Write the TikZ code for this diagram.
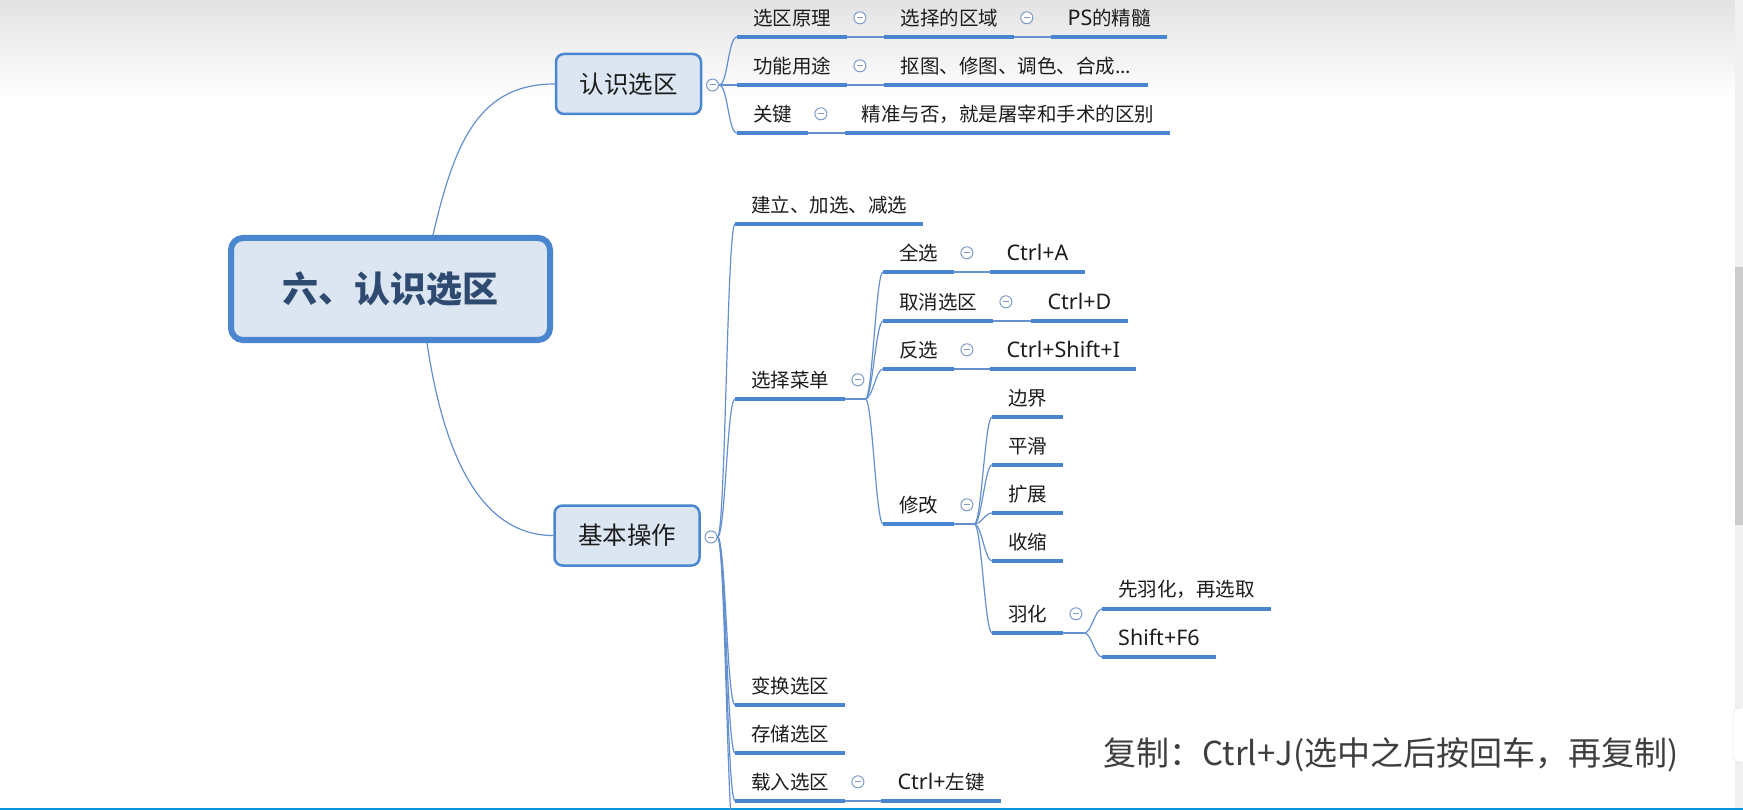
\documentclass[tikz,border=0pt]{standalone}
\usepackage{fontspec}
\setmainfont{Noto Sans CJK SC}
\newfontfamily\latinfont{Noto Sans}
\newcommand\latn[1]{{\fontsize{21.5}{25}\selectfont\latinfont #1}}
\usetikzlibrary{positioning}

\definecolor{mmblue}{RGB}{74,134,208}
\definecolor{mmline}{RGB}{100,144,208}
\definecolor{mmfill}{RGB}{220,230,242}
\definecolor{roottext}{RGB}{46,74,112}
\definecolor{leaftext}{RGB}{28,28,28}
\definecolor{foldgray}{RGB}{125,155,200}
\definecolor{notetext}{RGB}{62,62,62}

\begin{document}
\begin{tikzpicture}[x=1pt,y=-1pt,
  root/.style={draw=mmblue,line width=6pt,fill=mmfill,rounded corners=12pt,
    minimum width=319pt,minimum height=102pt,text=roottext,
    font=\fontsize{36}{40}\selectfont\bfseries},
  topic/.style={draw=mmblue,line width=2.5pt,fill=mmfill,rounded corners=8pt,
    minimum width=145pt,minimum height=60pt,text=leaftext,
    font=\fontsize{24.5}{28}\selectfont},
  leaf/.style={anchor=south west,inner xsep=16pt,inner ysep=0pt,minimum height=38pt,
    text=leaftext,font=\fontsize{19.5}{23}\selectfont},
  fold/.style={circle,draw=foldgray,fill=white,line width=1pt,minimum size=12pt,inner sep=0pt,
    path picture={\draw[foldgray,line width=1pt]
      ([xshift=-3pt]path picture bounding box.center) -- ([xshift=3pt]path picture bounding box.center);}},
  uline/.style={draw=mmblue,line width=4pt},
  link/.style={draw=mmline,line width=1.2pt},
]
  \useasboundingbox (0,0) rectangle (1743,810);
  % window background
  \fill[white] (0,0) rectangle (1743,810);
  \shade[top color=black!11,bottom color=white] (0,0) rectangle (1735,100);
  \fill[black!6] (1735,0) rectangle (1743,810);
  \fill[black!20] (1735,267) rectangle (1743,525);
  \filldraw[fill=white,draw=black!15,rounded corners=6pt] (1733,708) rectangle (1760,762);
  \fill[cyan!80!blue] (0,807.5) rectangle (1743,810);

  % central topic and main branches
  \node[root] (root) at (390.5,289) {六、认识选区};
  \node[topic] (t1) at (628.5,84) {认识选区};
  \node[topic] (t2) at (627,535.5) {基本操作};
  \draw[link] ([xshift=42.5pt]root.north) .. controls +(22,-95) and +(-75,0) .. (t1.west);
  \draw[link] ([xshift=36.5pt]root.south) .. controls +(13,87) and +(-83,0) .. (t2.west);
  \node[fold] (t1f) at (712.5,85) {};
  \node[fold] (t2f) at (711,537) {};

  % 认识选区
  \node[leaf] (a1) at (737,37) {选区原理};
  \node[fold,right=6pt of a1] (a1f) {};
  \node[leaf,right=37pt of a1] (a1a) {选择的区域};
  \node[fold,right=6pt of a1a] (a1af) {};
  \node[leaf,right=37pt of a1a] (a1b) {\latn{PS}的精髓};
  \node[leaf] (a2) at (737,85) {功能用途};
  \node[fold,right=6pt of a2] (a2f) {};
  \node[leaf,right=37pt of a2] (a2a) {抠图、修图、调色、合成...};
  \node[leaf] (a3) at (737,133) {关键};
  \node[fold,right=6pt of a3] (a3f) {};
  \node[leaf,right=37pt of a3] (a3a) {精准与否，就是屠宰和手术的区别};
  \foreach \n in {a1,a2,a3}
    \draw[link] (t1f.east) .. controls +(9,0) and +(-9,0) .. (\n.south west);
  \draw[link] (a1.south east) -- (a1a.south west);
  \draw[link] (a1a.south east) -- (a1b.south west);
  \draw[link] (a2.south east) -- (a2a.south west);
  \draw[link] (a3.south east) -- (a3a.south west);

  % 基本操作
  \node[leaf] (b1) at (735,224) {建立、加选、减选};
  \node[leaf] (b2) at (735,399) {选择菜单};
  \node[fold,right=6pt of b2] (b2f) {};
  \node[leaf] (b3) at (735,705) {变换选区};
  \node[leaf] (b4) at (735,753) {存储选区};
  \node[leaf] (b5) at (735,801) {载入选区};
  \node[fold,right=6pt of b5] (b5f) {};
  \node[leaf,right=36pt of b5] (g1) {\latn{Ctrl+}左键};
  \coordinate (b6) at (735,849);
  \foreach \n in {b1,b2,b3,b4,b5}
    \draw[link] (t2f.east) .. controls +(8,0) and +(-8,0) .. (\n.south west);
  \draw[link] (t2f.east) .. controls +(8,0) and +(-8,0) .. (b6);
  \draw[link] (b5.south east) -- (g1.south west);

  % 选择菜单
  \coordinate (b2k) at ([xshift=20pt]b2.south east);
  \draw[link] (b2.south east) -- (b2k);
  \node[leaf] (c1) at (883,272) {全选};
  \node[fold,right=6pt of c1] (c1f) {};
  \node[leaf,right=36pt of c1] (d1) {\latn{Ctrl+A}};
  \node[leaf] (c2) at (883,321) {取消选区};
  \node[fold,right=6pt of c2] (c2f) {};
  \node[leaf,right=38pt of c2] (d2) {\latn{Ctrl+D}};
  \node[leaf] (c3) at (883,369) {反选};
  \node[fold,right=6pt of c3] (c3f) {};
  \node[leaf,right=36pt of c3] (d3) {\latn{Ctrl+Shift+I}};
  \node[leaf] (c4) at (883,524) {修改};
  \node[fold,right=6pt of c4] (c4f) {};
  \foreach \n in {c1,c2,c3,c4}
    \draw[link] (b2k) .. controls +(7,0) and +(-7,0) .. (\n.south west);
  \foreach \n/\m in {c1/d1,c2/d2,c3/d3}
    \draw[link] (\n.south east) -- (\m.south west);

  % 修改
  \coordinate (c4k) at ([xshift=20pt]c4.south east);
  \draw[link] (c4.south east) -- (c4k);
  \foreach \n/\y/\t in {e1/417/边界,e2/465/平滑,e3/513/扩展,e4/561/收缩}
    \node[leaf] (\n) at (992,\y) {\t};
  \node[leaf] (e5) at (992,633) {羽化};
  \node[fold,right=6pt of e5] (e5f) {};
  \foreach \n in {e1,e2,e3,e4,e5}
    \draw[link] (c4k) .. controls +(7,0) and +(-7,0) .. (\n.south west);

  % 羽化
  \coordinate (e5k) at ([xshift=21pt]e5.south east);
  \draw[link] (e5.south east) -- (e5k);
  \node[leaf] (f1) at (1102,609) {先羽化，再选取};
  \node[leaf] (f2) at (1102,657) {\latn{Shift+F6}};
  \foreach \n in {f1,f2}
    \draw[link] (e5k) .. controls +(7,0) and +(-7,0) .. (\n.south west);

  % underlines
  \foreach \n in {a1,a1a,a1b,a2,a2a,a3,a3a,b1,b2,b3,b4,b5,g1,c1,d1,c2,d2,c3,d3,c4,e1,e2,e3,e4,e5,f1,f2}
    \draw[uline] (\n.south west) -- (\n.south east);

  \node[anchor=west,text=notetext,font=\fontsize{33}{38}\selectfont] (note) at (1100,755)
    {复制：Ctrl+J(选中之后按回车，再复制)};
\end{tikzpicture}
\end{document}
